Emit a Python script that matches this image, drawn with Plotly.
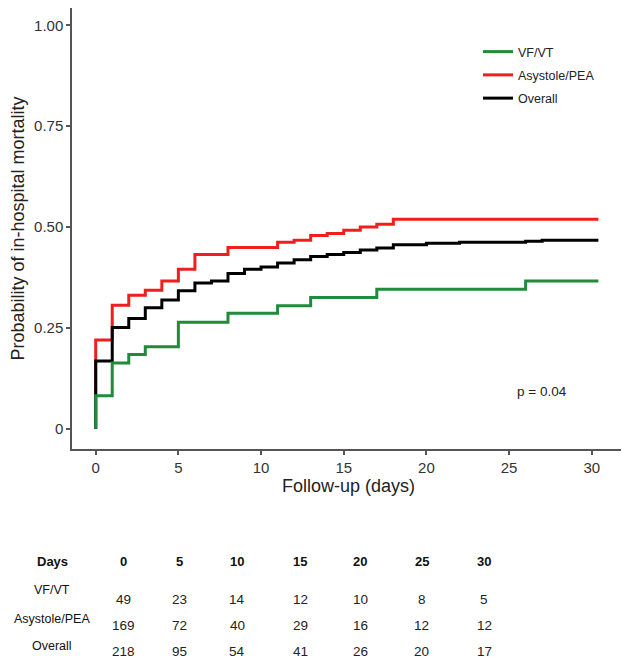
import plotly.graph_objects as go

# ---------------- data ----------------
days_vf = [0, 0, 1, 2, 3, 5, 8, 11, 13, 17, 26, 30.4]
mort_vf = [0, 0.082, 0.163, 0.184, 0.203, 0.264, 0.286, 0.305, 0.325, 0.346, 0.366, 0.366]

days_asy = [0, 0, 1, 2, 3, 4, 5, 6, 8, 11, 12, 13, 14, 15, 16, 17, 18, 30.4]
mort_asy = [0, 0.220, 0.306, 0.331, 0.343, 0.366, 0.395, 0.432, 0.449, 0.462, 0.467,
            0.479, 0.484, 0.492, 0.500, 0.507, 0.519, 0.519]

days_all = [0, 0, 1, 2, 3, 4, 5, 6, 7, 8, 9, 10, 11, 12, 13, 14, 15, 16, 17, 18, 20, 22, 26, 27, 30.4]
mort_all = [0, 0.168, 0.251, 0.273, 0.300, 0.319, 0.342, 0.361, 0.366, 0.385, 0.395, 0.401,
            0.411, 0.419, 0.427, 0.432, 0.437, 0.443, 0.448, 0.456, 0.460, 0.462, 0.465, 0.467, 0.467]

x_ticks = [0, 5, 10, 15, 20, 25, 30]
y_ticks = [0, 0.25, 0.5, 0.75, 1.0]
y_ticklabels = ["0", "0.25", "0.50", "0.75", "1.00"]

table_header = ["Days", "0", "5", "10", "15", "20", "25", "30"]
risk_vf = [49, 23, 14, 12, 10, 8, 5]
risk_asy = [169, 72, 40, 29, 16, 12, 12]
risk_all = [218, 95, 54, 41, 26, 20, 17]
group_names = ["VF/VT", "Asystole/PEA", "Overall"]

# ---------------- styles ----------------
GREEN = "#1f8b3b"
RED = "#f01e1e"
BLACK = "#000000"
FONT = "Arial, Liberation Sans, sans-serif"
OFF = 8  # page body margin of the browser
W, H = 629 - OFF, 662 - OFF
L, R, T, B = 64, 4, 0, 213
PW, PH = W - L - R, H - T - B


def px_x(px):
    return (px - OFF - L) / PW


def px_y(py):
    return (H - B - (py - OFF)) / PH


fig = go.Figure()
fig.add_trace(go.Scatter(x=days_asy, y=mort_asy, mode="lines", line=dict(color=RED, width=3, shape="hv"),
                         name=group_names[1], legendrank=2, legendgroup="b"))
fig.add_trace(go.Scatter(x=days_all, y=mort_all, mode="lines", line=dict(color=BLACK, width=3, shape="hv"),
                         name=group_names[2], legendrank=3, legendgroup="c"))
fig.add_trace(go.Scatter(x=days_vf, y=mort_vf, mode="lines", line=dict(color=GREEN, width=3, shape="hv"),
                         name=group_names[0], legendrank=1, legendgroup="a"))


def ann(x, y, text, size, color="#222"):
    return dict(x=px_x(x), y=px_y(y), xref="paper", yref="paper", text=text, showarrow=False,
                xanchor="center", yanchor="middle", font=dict(family=FONT, size=size, color=color))


annotations = [ann(541.5, 391, "p = 0.04", 13.5)]

# risk table
label_px = 52
col_px = [123.3, 179, 237.3, 300, 360, 421.7, 484]
row_label_py = [590, 619.3, 646]
row_val_py = [599, 625.7, 651.7]
annotations.append(ann(label_px, 561, "<b>Days</b>", 13, "#111"))
for cx, h in zip(col_px, table_header[1:]):
    annotations.append(ann(cx, 561, f"<b>{h}</b>", 13, "#111"))
for name, vals, ly, vy in zip(group_names, [risk_vf, risk_asy, risk_all], row_label_py, row_val_py):
    annotations.append(ann(label_px, ly, name, 12.5, "#111"))
    for cx, v in zip(col_px, vals):
        annotations.append(ann(cx, vy, str(v), 13.5, "#222"))

AX = "#555555"
fig.update_layout(
    width=W, height=H,
    margin=dict(l=L, r=R, t=T, b=B, autoexpand=False),
    paper_bgcolor="white", plot_bgcolor="white",
    font=dict(family=FONT, color="#222"),
    showlegend=True,
    legend=dict(x=px_x(478), y=px_y(37), xanchor="left", yanchor="top",
                bgcolor="rgba(0,0,0,0)", font=dict(family=FONT, size=12.5, color="#222"),
                traceorder="grouped", tracegroupgap=4),
    xaxis=dict(range=[-1.433, 32.01], tickvals=x_ticks, showgrid=False, zeroline=False,
               showline=True, linecolor=AX, linewidth=1.5, ticks="outside", ticklen=4,
               tickcolor=AX, tickwidth=1.5, tickfont=dict(family=FONT, size=15, color="#333"),
               title=dict(text="Follow-up (days)", font=dict(family=FONT, size=18, color="#222"), standoff=4)),
    yaxis=dict(range=[-0.0503, 1.0429], tickvals=y_ticks, ticktext=y_ticklabels, showgrid=False,
               zeroline=False, showline=True, linecolor=AX, linewidth=1.5, ticks="outside",
               ticklen=4, tickcolor=AX, tickwidth=1.5, tickfont=dict(family=FONT, size=15, color="#333"),
               title=dict(text="Probability of in-hospital mortality",
                          font=dict(family=FONT, size=18, color="#222"), standoff=16)),
    annotations=annotations,
)

fig.write_html("out.html")
